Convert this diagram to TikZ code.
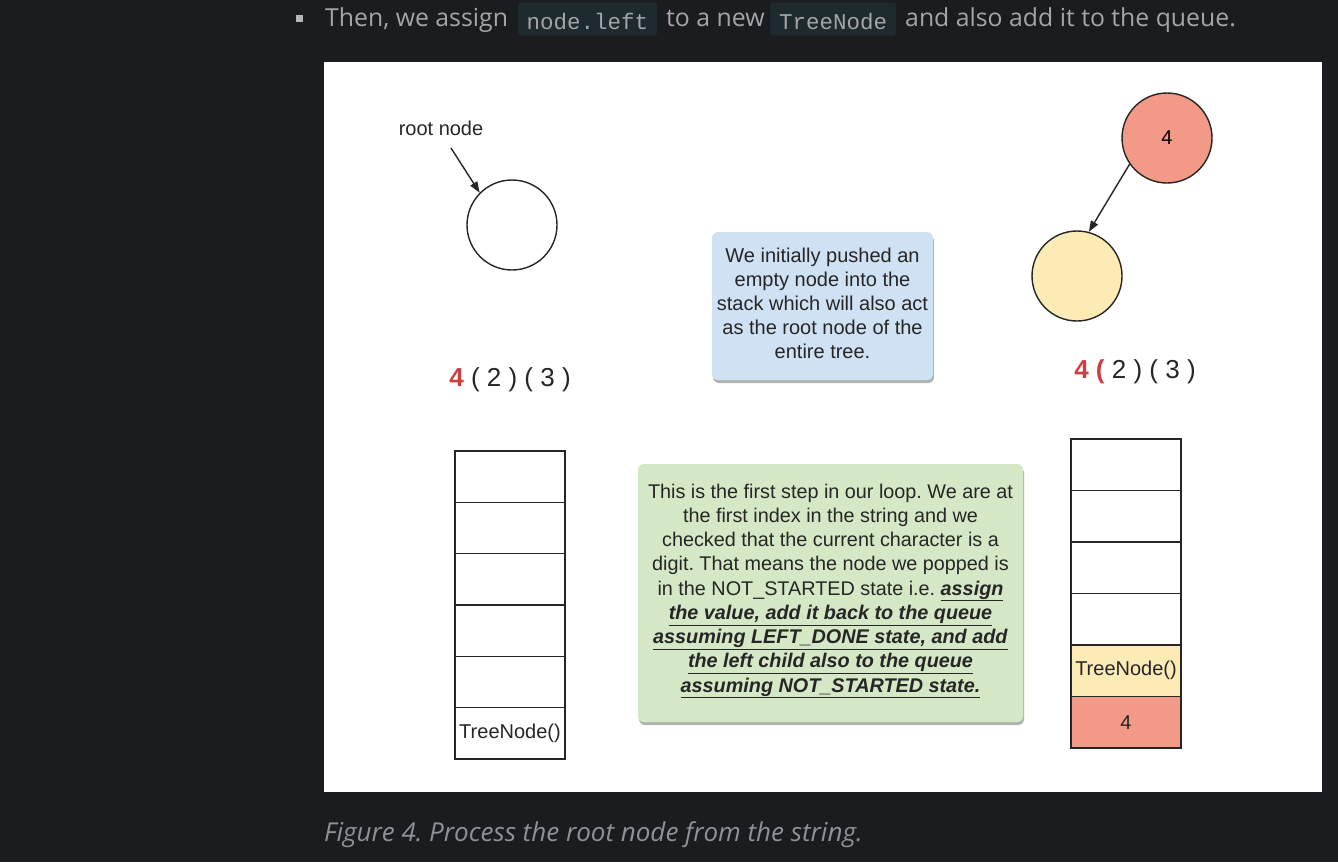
\documentclass[tikz,border=0pt]{standalone}
\usepackage{fontspec}
\setmainfont{Liberation Sans}
\newfontfamily\uifont{Open Sans}
\newfontfamily\codefont{Liberation Mono}
\usetikzlibrary{arrows.meta,shadows}
\frenchspacing
\definecolor{pagebg}{HTML}{1B1C1F}
\definecolor{uitext}{HTML}{A3A5A8}
\definecolor{captext}{HTML}{8E9196}
\definecolor{codebg}{HTML}{1F2A2E}
\definecolor{notebl}{HTML}{CFE2F3}
\definecolor{notegr}{HTML}{D5E8C6}
\definecolor{nodered}{HTML}{F29A87}
\definecolor{nodeyel}{HTML}{FDEBB6}
\definecolor{strred}{HTML}{CC3F3F}
\tikzset{
  uitxt/.style={font=\uifont\fontsize{24.8}{28}\selectfont, text=uitext, inner sep=0, anchor=base west},
  codebox/.style={fill=codebg, rounded corners=3, inner sep=0},
  codetxt/.style={font=\codefont\fontsize{22.5}{26}\selectfont, text=uitext, inner sep=0},
  txt/.style={font=\fontsize{20}{24}\selectfont, text=black!85, inner sep=0},
  circ/.style={circle, draw=black!85, line width=1.4, minimum size=90, inner sep=0, font=\fontsize{20}{24}\selectfont},
  cell/.style={draw=black!85, line width=1.2, minimum width=110, minimum height=51.4, inner sep=0, font=\fontsize{20}{24}\selectfont, text=black!85},
  note/.style={rounded corners=6, inner sep=0, align=center, font=\fontsize{20}{24.2}\selectfont, text=black!85,
    drop shadow={shadow xshift=1pt, shadow yshift=-3pt, opacity=0.3, fill=black}},
  arr/.style={line width=1.4, draw=black!85, -{Triangle[length=11,width=8]}},
  strtxt/.style={font=\fontsize{26}{30}\selectfont, text=black!85, inner sep=0}
}
\begin{document}
\begin{tikzpicture}[x=1pt,y=-1pt]
\fill[pagebg] (0,0) rectangle (1338,862);
\useasboundingbox (0,0) rectangle (1338,862);
% header line
\fill[uitext!80] (296,15) rectangle (303,22);
\node[uitxt] (t1) at (325,27) {Then, we assign};
\node[codebox, minimum width=139, minimum height=33] (c1) at (587.5,19) {};
\node[codetxt] (c1t) at (587.5,21) {node.left};
\node[uitxt] (t2) at (666,27) {to a new};
\node[codebox, minimum width=126, minimum height=33] (c2) at (833,19) {};
\node[codetxt] (c2t) at (833,21) {TreeNode};
\node[uitxt] (t3) at (905,27) {and also add it to the queue.};
% panel
\fill[white] (324,62) rectangle (1322,792);
% caption
\node[uitxt, text=captext, font=\uifont\itshape\fontsize{26}{30}\selectfont] (cap) at (324,841) {Figure 4. Process the root node from the string.};

% left side
\node[txt] (rootlbl) at (441,128) {root node};
\node[circ] (root) at (512,225) {};
\coordinate (rootfrom) at (451,148);
\draw[arr] (rootfrom) -- (root.135);
\node[strtxt] (strL) at (510,380) {\textcolor{strred}{\textbf{4}} ( 2 ) ( 3 )};
\foreach \i/\lab in {0/,1/,2/,3/,4/,5/TreeNode()} {
  \node[cell] (L\i) at (510,{476.7+51.33*\i}) {\lab};
}

% notes
\node[note, fill=notebl, minimum width=221, minimum height=148] (blue) at (822.5,306) {};
\node[txt, align=center] (bluet) at (822.5,303) {We initially pushed an\\empty node into the\\stack which will also act\\as the root node of the\\entire tree.};
\node[note, fill=notegr, minimum width=385, minimum height=258] (green) at (830.5,593) {};
\node[txt, align=center, font=\fontsize{19.8}{24.25}\selectfont] (greent) at (830.5,591) {This is the first step in our loop. We are at\\the first index in the string and we\\checked that the current character is a\\digit. That means the node we popped is\\in the NOT\_STARTED state i.e. \underline{\textbf{\textit{assign}}}\\\underline{\textbf{\textit{the value, add it back to the queue}}}\\\underline{\textbf{\textit{assuming LEFT\_DONE state, and add}}}\\\underline{\textbf{\textit{the left child also to the queue}}}\\\underline{\textbf{\textit{assuming NOT\_STARTED state.}}}};

% right side
\node[circ, fill=nodered] (four) at (1167,138) {4};
\node[circ, fill=nodeyel] (child) at (1077,276) {};
\draw[arr] (four.215) -- (child.75);
\node[strtxt] (strR) at (1135,372) {\textcolor{strred}{\textbf{4 (}} 2 ) ( 3 )};
\foreach \i/\lab/\col in {0//white,1//white,2//white,3//white,4/TreeNode()/nodeyel,5/4/nodered} {
  \node[cell, fill=\col] (R\i) at (1126,{464.75+51.5*\i}) {\lab};
}
\end{tikzpicture}
\end{document}
